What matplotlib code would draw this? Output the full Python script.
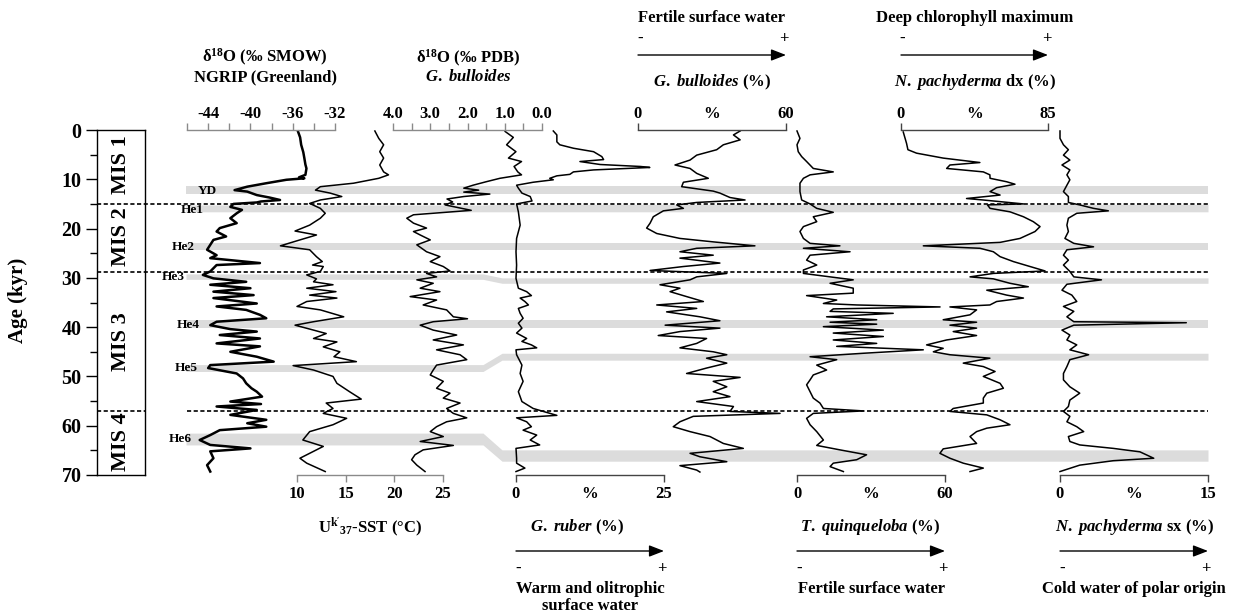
import numpy as np
import matplotlib.pyplot as plt

# (age kyr, value) pairs
ngrip_d18o = np.array([
    (0.3, -35.5), (1.5, -35.3), (3.0, -35.2), (4.5, -35.0), (5.7, -34.9), (7.0, -34.8),
    (7.8, -34.7), (9.1, -34.8), (9.6, -35.4), (9.8, -34.9), (10.1, -36.6), (10.8, -38.5),
    (11.5, -40.3), (12.2, -41.5), (12.5, -40.3), (13.2, -39.4), (13.7, -38.2), (14.2, -37.2),
    (14.5, -39.0), (14.7, -39.4), (15.0, -41.6), (15.6, -41.9), (16.2, -40.8), (16.9, -41.3),
    (17.9, -41.9), (18.9, -41.3), (19.9, -42.9), (20.6, -43.2), (21.6, -42.3), (22.3, -43.5),
    (23.3, -43.8), (24.3, -44.1), (25.4, -43.2), (26.0, -43.8), (27.0, -39.1), (27.4, -43.2),
    (28.7, -43.8), (29.4, -44.5), (30.1, -43.5), (30.8, -40.4), (31.4, -43.8), (32.1, -40.0),
    (32.8, -43.5), (33.5, -39.7), (34.1, -43.5), (35.2, -39.4), (35.8, -43.2), (36.5, -40.4),
    (37.5, -39.1), (38.2, -38.5), (38.9, -43.2), (39.6, -43.8), (40.4, -41.9), (40.9, -39.4),
    (41.6, -42.9), (42.3, -39.1), (43.3, -43.2), (43.9, -39.1), (45.0, -41.9), (46.0, -39.4),
    (47.0, -37.8), (47.7, -43.8), (48.3, -44.0), (49.4, -41.3), (50.4, -40.7), (51.4, -40.4),
    (52.4, -39.9), (53.1, -39.4), (54.1, -38.9), (55.1, -41.9), (55.6, -39.0), (56.1, -43.2),
    (56.8, -39.4), (57.8, -41.9), (58.8, -38.5), (59.5, -40.3), (60.2, -38.5), (60.9, -42.9),
    (61.9, -43.8), (62.9, -44.8), (63.9, -43.8), (64.6, -40.0), (65.2, -43.8), (66.6, -43.5),
    (68.0, -44.1), (69.3, -43.8)])

uk37_sst = np.array([
    (0.2, 18.0), (1.7, 18.4), (3.0, 18.9), (4.4, 18.5), (5.7, 18.9), (7.1, 18.5), (8.5, 18.9),
    (9.1, 19.4), (9.8, 18.4), (10.8, 15.8), (11.5, 12.4), (12.2, 11.9), (12.8, 13.4), (13.5, 14.6),
    (14.2, 12.4), (14.9, 11.3), (15.9, 12.4), (16.9, 12.9), (17.9, 12.4), (19.3, 11.3), (20.5, 9.8),
    (21.3, 12.0), (22.3, 10.3), (23.5, 8.3), (24.3, 11.3), (25.7, 12.0), (26.7, 12.6), (27.4, 11.6),
    (27.7, 12.7), (28.7, 12.4), (29.4, 11.0), (30.2, 12.0), (30.8, 11.7), (31.4, 13.7), (32.1, 11.0),
    (32.8, 14.0), (33.5, 11.3), (34.1, 14.1), (34.8, 11.0), (35.8, 10.0), (36.5, 12.4), (37.9, 14.8),
    (38.9, 11.7), (39.6, 9.8), (40.6, 11.7), (41.3, 13.0), (42.3, 11.7), (43.0, 14.1), (44.0, 12.7),
    (45.0, 14.4), (46.0, 13.8), (47.0, 16.1), (47.8, 9.6), (48.7, 11.7), (50.0, 13.7), (51.4, 14.1),
    (53.1, 15.4), (54.6, 16.6), (55.4, 13.0), (56.5, 13.7), (57.5, 12.7), (58.5, 15.1), (59.8, 13.7),
    (61.2, 11.3), (62.9, 10.6), (64.2, 12.7), (65.6, 11.3), (66.6, 10.3), (67.6, 11.0), (69.3, 12.9)])

bull_d18o = np.array([
    (0.3, 0.99), (1.5, 0.77), (3.0, 0.95), (4.4, 0.70), (5.7, 0.90), (6.4, 0.55), (7.4, 0.75),
    (8.5, 0.65), (9.1, 0.55), (9.8, 1.13), (10.5, 1.50), (11.2, 1.85), (11.8, 2.10), (12.2, 1.70),
    (12.6, 2.10), (13.0, 1.40), (13.5, 2.10), (14.0, 2.55), (14.6, 2.40), (15.2, 2.60), (16.3, 1.90),
    (17.2, 3.45), (17.9, 3.63), (18.9, 3.45), (19.9, 3.10), (20.6, 3.45), (21.3, 3.27), (22.3, 3.00),
    (23.3, 3.36), (24.7, 3.10), (25.7, 2.74), (26.7, 3.00), (27.7, 2.65), (28.6, 2.47), (29.1, 3.10),
    (29.8, 2.83), (30.4, 3.36), (31.1, 2.92), (32.1, 3.27), (32.8, 2.74), (33.8, 3.54), (34.5, 2.83),
    (35.5, 3.19), (36.5, 2.56), (37.9, 2.38), (38.3, 2.00), (38.9, 2.92), (39.6, 3.27), (40.6, 2.92),
    (41.6, 2.29), (42.6, 2.92), (43.6, 2.11), (44.6, 2.83), (45.6, 2.20), (46.6, 2.02), (47.7, 2.83),
    (48.7, 2.92), (49.7, 3.00), (51.0, 2.65), (52.4, 2.83), (53.4, 2.47), (54.4, 2.65), (55.4, 2.20),
    (56.5, 2.56), (57.5, 2.38), (58.4, 2.02), (59.2, 2.56), (60.2, 2.83), (61.2, 3.00), (62.2, 2.65),
    (63.2, 3.27), (64.0, 2.38), (64.9, 3.19), (65.9, 3.41), (66.9, 3.50), (68.0, 3.36), (69.3, 3.14)])

ruber_pct = np.array([
    (0.2, 6.3), (1.0, 6.9), (2.4, 6.9), (3.0, 7.4), (3.7, 9.7), (4.4, 13.1), (5.4, 14.5), (6.0, 14.8),
    (6.4, 10.8), (7.0, 14.2), (7.4, 21.0), (7.6, 22.6), (8.1, 13.1), (8.5, 9.7), (9.0, 9.1), (9.3, 6.9),
    (9.8, 5.7), (10.1, 6.3), (10.6, 2.9), (11.2, 0.1), (11.8, 0.4), (12.8, 1.0), (13.5, 2.4),
    (14.4, 2.7), (15.0, 0.1), (16.6, 0.4), (19.3, 0.7), (22.0, 0.1), (24.7, 0.0), (27.4, 0.1),
    (30.1, 0.0), (32.1, 0.4), (32.8, 1.8), (33.6, 2.6), (34.1, 0.7), (34.8, 1.5), (35.5, 2.1),
    (36.2, 0.4), (37.2, 0.7), (38.2, 1.2), (39.2, 0.4), (40.2, 1.0), (41.2, 0.1), (42.3, 1.8),
    (42.9, 1.0), (43.6, 2.6), (44.2, 3.5), (44.6, 0.0), (45.6, 0.1), (47.7, 1.0), (49.4, 0.7),
    (51.0, 1.2), (53.1, 0.4), (55.1, 1.0), (56.5, 2.9), (57.1, 4.6), (57.9, 6.9), (58.4, 0.1),
    (59.2, 1.8), (60.2, 2.6), (60.9, 1.2), (61.9, 3.5), (62.9, 2.4), (63.9, 4.0), (64.6, 0.0),
    (66.6, 0.1), (67.6, 0.1), (68.6, 1.5), (69.3, 0.0)])

bull_pct = np.array([
    (0.2, 41.4), (1.0, 38.7), (2.0, 41.4), (3.0, 34.6), (4.0, 31.9), (5.1, 23.8), (6.1, 21.1),
    (7.1, 15.0), (7.8, 21.1), (8.8, 23.8), (9.8, 28.5), (10.6, 18.4), (11.5, 17.7), (12.4, 30.5),
    (12.8, 33.2), (13.7, 37.3), (14.2, 43.4), (14.7, 23.8), (15.2, 15.7), (15.9, 18.4), (16.4, 10.3),
    (17.6, 6.2), (18.9, 4.9), (19.9, 3.5), (21.0, 7.6), (22.0, 17.0), (22.7, 30.5), (23.5, 47.4),
    (24.0, 23.8), (24.7, 17.0), (25.4, 30.5), (26.0, 17.0), (27.0, 33.2), (27.7, 18.4), (28.5, 4.9),
    (29.1, 36.0), (29.8, 23.8), (30.4, 21.1), (31.4, 8.9), (32.1, 17.0), (32.8, 13.0), (33.8, 19.7),
    (34.8, 26.5), (35.5, 7.6), (36.2, 23.8), (36.9, 11.6), (37.9, 25.1), (38.7, 33.2), (39.6, 11.0),
    (40.2, 33.2), (40.9, 17.0), (41.7, 8.2), (42.3, 27.8), (43.3, 23.8), (44.2, 17.0), (45.0, 30.5),
    (45.6, 36.0), (46.3, 27.8), (47.3, 36.0), (48.3, 27.8), (49.4, 19.7), (50.2, 41.4), (51.0, 30.5),
    (52.1, 36.0), (53.1, 30.5), (54.1, 37.3), (55.1, 23.8), (56.1, 38.7), (57.1, 37.3), (57.5, 57.6),
    (58.1, 22.4), (59.2, 17.0), (60.2, 14.3), (61.2, 21.1), (62.2, 29.2), (63.6, 34.6), (64.6, 42.7),
    (65.6, 21.1), (66.3, 25.1), (67.3, 36.0), (68.1, 17.0), (69.0, 23.8), (69.4, 25.1)])

quinq_pct = np.array([
    (0.2, 0.0), (1.7, 1.2), (3.0, 0.0), (4.4, 0.5), (5.4, 1.9), (6.4, 3.9), (7.8, 6.6), (8.5, 14.7),
    (9.1, 5.3), (9.8, 2.6), (10.8, 1.2), (12.5, 1.2), (14.2, 1.9), (15.0, 5.3), (15.9, 8.0),
    (16.7, 14.7), (17.6, 6.6), (18.6, 8.0), (19.6, 2.6), (20.6, 1.2), (22.0, 2.6), (23.0, 5.3),
    (23.5, 17.4), (24.0, 2.6), (24.7, 21.5), (25.4, 5.3), (26.4, 3.9), (27.4, 8.0), (28.4, 2.6),
    (29.1, 2.6), (29.8, 13.4), (30.4, 22.8), (31.1, 13.4), (32.1, 22.8), (33.1, 22.8), (33.6, 3.9),
    (34.5, 16.1), (35.2, 10.7), (35.5, 24.2), (35.9, 58.0), (36.3, 14.7), (36.8, 13.4), (37.2, 39.0),
    (37.9, 12.0), (38.5, 32.3), (39.0, 13.4), (39.4, 32.3), (39.9, 10.7), (40.6, 35.0), (41.2, 14.7),
    (41.9, 35.0), (42.6, 14.7), (43.3, 32.3), (43.9, 16.1), (44.6, 51.2), (45.3, 26.9), (46.0, 5.3),
    (46.6, 16.1), (47.7, 8.0), (48.7, 12.0), (49.7, 6.6), (50.7, 5.3), (51.7, 3.9), (53.1, 5.3),
    (54.4, 6.6), (55.4, 9.3), (56.5, 10.7), (57.0, 26.9), (57.5, 6.6), (58.5, 3.9), (59.8, 5.3),
    (61.2, 8.0), (62.9, 10.7), (64.0, 8.0), (64.9, 17.4), (65.9, 28.2), (66.9, 24.2), (67.6, 14.7),
    (68.3, 13.4), (69.3, 18.8)])

pachy_dx_pct = np.array([
    (0.4, 1.3), (2.7, 3.2), (4.0, 4.0), (4.7, 9.0), (5.7, 24.4), (6.6, 45.6), (7.1, 28.3),
    (7.8, 26.4), (8.5, 47.6), (9.1, 51.4), (9.8, 51.5), (10.5, 61.1), (11.0, 65.9), (11.7, 55.3),
    (12.5, 51.5), (13.2, 57.3), (13.9, 37.9), (14.2, 47.5), (15.0, 70.8), (15.2, 50.0), (15.9, 51.5),
    (16.6, 63.0), (17.6, 70.8), (18.6, 76.5), (19.6, 80.4), (20.6, 77.5), (22.0, 68.8), (22.8, 57.3),
    (23.5, 12.9), (24.0, 45.7), (24.7, 53.4), (25.7, 57.3), (26.7, 65.0), (27.7, 74.6), (28.6, 83.3),
    (29.1, 53.4), (29.8, 39.9), (30.2, 53.4), (31.1, 63.0), (31.8, 73.6), (32.5, 49.6), (33.5, 61.1),
    (34.1, 70.8), (34.8, 55.3), (35.5, 51.4), (35.9, 28.3), (36.5, 43.7), (37.5, 39.9), (38.5, 24.4),
    (39.0, 43.7), (39.6, 28.3), (40.2, 43.7), (40.9, 30.2), (41.7, 43.7), (42.6, 26.4), (43.6, 14.8),
    (44.3, 24.4), (45.0, 18.7), (45.6, 28.3), (46.3, 51.4), (47.3, 36.0), (48.0, 47.6), (49.0, 54.4),
    (50.0, 47.6), (51.4, 57.3), (52.4, 59.2), (53.4, 49.6), (54.4, 47.6), (55.4, 47.6), (56.5, 30.2),
    (57.1, 28.3), (57.8, 49.6), (58.8, 57.3), (59.8, 63.0), (60.5, 49.6), (61.2, 43.7), (62.2, 39.9),
    (63.6, 43.7), (64.7, 24.4), (65.6, 22.5), (66.6, 28.3), (67.6, 36.0), (68.6, 47.6), (69.3, 39.9)])

pachy_sx_pct = np.array([
    (0.2, 0.0), (1.7, 0.0), (3.0, 0.35), (4.0, 0.85), (5.1, 0.35), (6.1, 1.0), (7.1, 0.2), (8.1, 1.0),
    (9.1, 0.7), (10.1, 1.0), (11.2, 0.7), (12.5, 0.35), (13.5, 0.85), (14.7, 0.85), (15.2, 2.0),
    (15.9, 3.4), (16.4, 4.9), (16.9, 1.7), (17.9, 0.85), (19.3, 0.7), (20.6, 0.85), (22.0, 0.5),
    (23.0, 1.4), (23.7, 3.4), (24.3, 0.7), (25.4, 0.35), (26.4, 0.85), (27.4, 0.35), (28.7, 1.0),
    (29.8, 1.4), (30.4, 4.2), (31.3, 0.7), (32.5, 0.2), (33.5, 1.2), (34.8, 1.7), (35.8, 0.35),
    (36.8, 1.4), (37.9, 0.7), (38.9, 1.4), (39.1, 12.8), (39.6, 1.4), (40.6, 0.2), (41.6, 1.0),
    (42.6, 0.7), (43.6, 1.7), (44.6, 1.0), (45.6, 2.9), (46.6, 1.0), (48.0, 0.7), (49.4, 0.35),
    (50.7, 0.35), (52.1, 1.0), (53.4, 2.0), (54.8, 1.0), (56.1, 0.85), (57.1, 0.35), (58.1, 1.0),
    (59.2, 0.7), (60.2, 1.7), (61.2, 2.4), (62.2, 0.85), (63.2, 1.0), (63.9, 2.0), (64.6, 5.4),
    (65.3, 8.1), (66.6, 9.5), (67.1, 5.4), (68.0, 2.0), (69.3, 0.0)])

# events: gray bands (top, bottom age) on the left records and on the right records
band_names = ["YD", "He1", "He2", "He3", "He4", "He5", "He6"]
band_left = [(11.4, 13.0), (15.2, 16.6), (22.9, 24.3), (29.2, 30.3), (38.6, 40.1), (47.6, 49.0), (61.5, 63.9)]
band_right = [(11.4, 13.0), (15.1, 16.6), (22.9, 24.3), (30.0, 31.1), (38.6, 40.1), (45.3, 46.7), (64.9, 67.2)]
band_label_age = [12.3, 16.2, 23.7, 29.8, 39.5, 48.3, 62.7]
band_label_x = [207, 192, 183, 173, 188, 186, 180]

mis_names = ["MIS 1", "MIS 2", "MIS 3", "MIS 4"]
mis_mid = [7.0, 21.7, 43.0, 63.3]
mis_bounds = [15.0, 28.9, 57.0]

plt.rcParams["font.family"] = "Liberation Serif"
plt.rcParams["font.weight"] = "bold"
plt.rcParams["axes.unicode_minus"] = False
plt.rcParams["mathtext.fontset"] = "custom"
plt.rcParams["mathtext.rm"] = "Liberation Serif:bold"
plt.rcParams["mathtext.bf"] = "Liberation Serif:bold"
plt.rcParams["mathtext.it"] = "Liberation Serif:italic:bold"
plt.rcParams["mathtext.default"] = "rm"

W, H = 1237, 614
Y_TOP, Y_BOT = 130, 475
FS = 12

fig = plt.figure(figsize=(W / 100, H / 100), dpi=100)


def panel(x0, x1):
    ax = fig.add_axes([x0 / W, 1 - Y_BOT / H, (x1 - x0) / W, (Y_BOT - Y_TOP) / H])
    ax.set_ylim(70, 0)
    ax.patch.set_visible(False)
    for s in ax.spines.values():
        s.set_visible(False)
    ax.set_yticks([])
    return ax


def track(x0, x1, lim, side, ticks, labels, color, mid=False):
    ax = panel(x0, x1)
    ax.set_xlim(*lim)
    ax.spines[side].set_visible(True)
    ax.spines[side].set_color(color)
    ax.spines[side].set_linewidth(1)
    if side == "top":
        ax.xaxis.tick_top()
    ax.set_xticks(ticks)
    ax.set_xticklabels(labels)
    pad = 0.5 if side == "top" else 3
    ax.tick_params(axis="x", direction="out", length=5, width=1, color=color,
                   labelsize=FS, pad=pad)
    if mid:
        if side == "top":
            ax.annotate("%", xy=(0.5, 1), xycoords="axes fraction", xytext=(0, 5 + pad),
                        textcoords="offset points", ha="center", va="bottom", fontsize=FS)
        else:
            ax.annotate("%", xy=(0.5, 0), xycoords="axes fraction", xytext=(0, -5 - pad),
                        textcoords="offset points", ha="center", va="top", fontsize=FS)
    return ax


def label(x, y, s, **kw):
    kw.setdefault("fontsize", FS)
    fig.text(x / W, 1 - y / H, s, ha="center", va="center", **kw)


# overlay for bands and boundaries
ov = panel(0, W)
ov.set_xlim(0, W)
ov.set_xticks([])


def arrow(x0, x1, y):
    ov.annotate("", xy=(x1, H - y), xytext=(x0, H - y), xycoords="figure pixels",
                annotation_clip=False,
                arrowprops=dict(arrowstyle="-|>,head_length=0.9,head_width=0.35",
                                color="k", lw=1, shrinkA=0, shrinkB=0, mutation_scale=10))


for (l0, l1), (r0, r1) in zip(band_left, band_right):
    xs = [186, 483, 502, 1208]
    ov.fill_between(xs, [l0, l0, r0, r0], [l1, l1, r1, r1], color="#dcdcdc", lw=0, zorder=0)
for b in mis_bounds:
    if b > 50:
        ov.hlines(b, 97, 145, colors="k", linestyles=(0, (2.5, 1.5)), lw=1.2)
        ov.hlines(b, 187, 1208, colors="k", linestyles=(0, (2.5, 1.5)), lw=1.2)
    else:
        ov.hlines(b, 97, 1208, colors="k", linestyles=(0, (2.5, 1.5)), lw=1.2)
for name, a, x in zip(band_names, band_label_age, band_label_x):
    ov.text(x, a, name, ha="center", va="center", fontsize=9.5)

# MIS column with age axis
mis = fig.add_axes([97 / W, 1 - Y_BOT / H, 48 / W, (Y_BOT - Y_TOP) / H])
mis.set_ylim(70, 0)
mis.set_xlim(0, 1)
mis.set_xticks([])
mis.set_yticks(np.arange(0, 71, 10))
mis.set_yticks(np.arange(5, 70, 10), minor=True)
mis.tick_params(axis="y", which="major", length=8, width=1, labelsize=14.5, pad=3)
mis.tick_params(axis="y", which="minor", length=5, width=1)
for s in mis.spines.values():
    s.set_linewidth(1)
mis.patch.set_visible(False)
for name, a in zip(mis_names, mis_mid):
    mis.text(0.5, a, name, rotation=90, ha="center", va="center", fontsize=16)
label(18, 300, "Age (kyr)", rotation=90, fontsize=15)

# records
ax = track(187, 335, (-46, -32), "top", np.arange(-46, -31, 2),
           ["", "-44", "", "-40", "", "-36", "", "-32"], "#8a8a8a")
ax.plot(ngrip_d18o[:, 1], ngrip_d18o[:, 0], color="k", lw=1.8, clip_on=False)

ax = track(297, 443, (10, 25), "bottom", [10, 15, 20, 25], ["10", "15", "20", "25"], "#8a8a8a")
ax.plot(uk37_sst[:, 1], uk37_sst[:, 0], color="k", lw=1.1, clip_on=False)

ax = track(393, 542, (4, 0), "top", np.arange(0, 4.01, 0.5),
           ["0.0", "", "1.0", "", "2.0", "", "3.0", "", "4.0"], "#8a8a8a")
ax.plot(bull_d18o[:, 1], bull_d18o[:, 0], color="k", lw=1.1, clip_on=False)

ax = track(516, 664, (0, 25), "bottom", [0, 25], ["0", "25"], "#444444", mid=True)
ax.plot(ruber_pct[:, 1], ruber_pct[:, 0], color="k", lw=1.1, clip_on=False)

ax = track(638, 786, (0, 60), "top", [0, 60], ["0", "60"], "#444444", mid=True)
ax.plot(bull_pct[:, 1], bull_pct[:, 0], color="k", lw=1.1, clip_on=False)

ax = track(797, 945, (0, 60), "bottom", [0, 60], ["0", "60"], "#444444", mid=True)
ax.plot(quinq_pct[:, 1], quinq_pct[:, 0], color="k", lw=1.1, clip_on=False)

ax = track(901, 1048, (0, 85), "top", [0, 85], ["0", "85"], "#444444", mid=True)
ax.plot(pachy_dx_pct[:, 1], pachy_dx_pct[:, 0], color="k", lw=1.1, clip_on=False)

ax = track(1060, 1208, (0, 15), "bottom", [0, 15], ["0", "15"], "#444444", mid=True)
ax.plot(pachy_sx_pct[:, 1], pachy_sx_pct[:, 0], color="k", lw=1.1, clip_on=False)

# top headings
label(265, 57, "δ$^{18}$O (‰ SMOW)")
label(265, 77, "NGRIP (Greenland)")
label(468, 58, "δ$^{18}$O (‰ PDB)")
label(468, 77, r"$\mathit{G.\ bulloides}$")
label(712, 18, "Fertile surface water")
label(640, 39, "-")
label(784, 39, "+")
arrow(638, 786, 55)
label(712, 82, r"$\mathit{G.\ bulloides}$ (%)")
label(975, 18, "Deep chlorophyll maximum")
label(902, 39, "-")
label(1047, 39, "+")
arrow(901, 1048, 55)
label(975, 82, r"$\mathit{N.\ pachyderma}$ dx (%)")

# bottom headings
label(370, 527, "U$^{k'}$$_{37}$-SST (°C)")
label(577, 527, r"$\mathit{G.\ ruber}$ (%)")
arrow(516, 664, 551)
label(518, 569, "-")
label(662, 569, "+")
label(590, 589, "Warm and olitrophic")
label(590, 606, "surface water")
label(870, 527, r"$\mathit{T.\ quinqueloba}$ (%)")
arrow(797, 945, 551)
label(799, 569, "-")
label(943, 569, "+")
label(871, 589, "Fertile surface water")
label(1135, 527, r"$\mathit{N.\ pachyderma}$ sx (%)")
arrow(1060, 1208, 551)
label(1062, 569, "-")
label(1206, 569, "+")
label(1134, 589, "Cold water of polar origin")

plt.savefig("out.png", dpi=100)
